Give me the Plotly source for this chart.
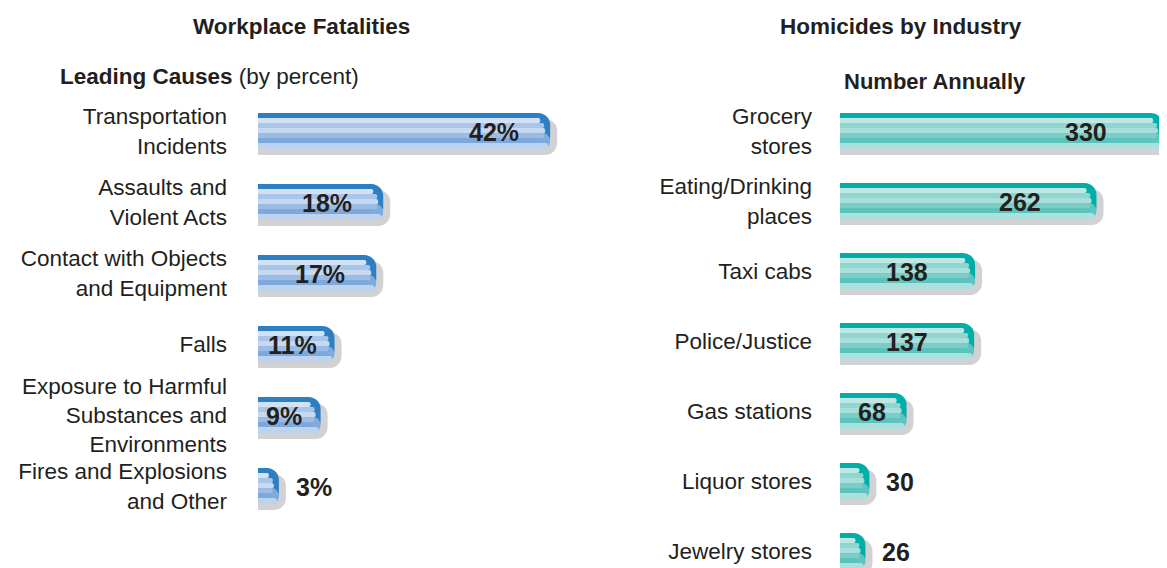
import math
import plotly.graph_objects as go

# ---------------- data ----------------
causes = ["Transportation<br>Incidents", "Assaults and<br>Violent Acts",
          "Contact with Objects<br>and Equipment", "Falls",
          "Exposure to Harmful<br>Substances and<br>Environments",
          "Fires and Explosions<br>and Other"]
cause_pct = [42, 18, 17, 11, 9, 3]
cause_text = ["42%", "18%", "17%", "11%", "9%", "3%"]

industries = ["Grocery<br>stores", "Eating/Drinking<br>places", "Taxi cabs",
              "Police/Justice", "Gas stations", "Liquor stores", "Jewelry stores"]
homicides = [330, 262, 138, 137, 68, 30, 26]
homicide_text = ["330", "262", "138", "137", "68", "30", "26"]

# ---------------- style ----------------
# The page body has an 8px margin, so the figure is sized to fit the window.
W, H = 1159, 560
FONT = "Liberation Sans, Arial, sans-serif"
INK = "#231F20"
SHADOW = "#D2D2D4"

# stripe layers: (top frac, bottom frac, colour, kind)
BLUE = [(0.00, 1.00, "#2C7FC3", "outer"), (0.55, 1.00, "#7FAADD", "outer"),
        (0.83, 1.00, "#BDD2ED", "band"),
        (0.14, 0.28, "#D3E1F4", "inner"), (0.28, 0.42, "#A9C6E9", "inner"),
        (0.42, 0.56, "#C6D9F0", "inner"), (0.56, 0.70, "#9BBDE5", "inner"),
        (0.70, 0.83, "#7DA8DC", "inner")]
TEAL = [(0.00, 1.00, "#00AEA8", "outer"), (0.55, 1.00, "#5EC4BE", "outer"),
        (0.83, 1.00, "#ACE0DC", "band"),
        (0.14, 0.28, "#BFE8E5", "inner"), (0.28, 0.42, "#8FD5D0", "inner"),
        (0.42, 0.56, "#A9DFDB", "inner"), (0.56, 0.70, "#7CCDC8", "inner"),
        (0.70, 0.83, "#5BC2BC", "inner")]
INNER_TOP, INNER_BOT = 0.14, 0.83
BORDER_PX = 5

L_DOM = [250 / W, 554 / W]
L_RANGE = [0, 43.7]
R_DOM = [832 / W, 1.0]
R_RANGE = [0, 334]
L_STEP, R_STEP = 71.0, 70.0
BAR_PX = 36

fig = go.Figure()


def inset_px(f0, f1, kind):
    if kind == "outer":
        return 0.0
    if kind == "band":
        return 2.0
    r = (INNER_BOT - INNER_TOP) * BAR_PX / 2
    dy = abs((f0 + f1) / 2 - (INNER_TOP + INNER_BOT) / 2) * BAR_PX
    return BORDER_PX + r - math.sqrt(max(r * r - dy * dy, 0))


def radius(kind):
    return {"outer": 12, "band": 6, "inner": 2}[kind]


def panel(cats, vals, texts, stripes, xa, ya, dom, rng, step_px, max_shift):
    ppu = (dom[1] - dom[0]) * W / (rng[1] - rng[0])
    bw = BAR_PX / step_px
    # shadow
    fig.add_trace(go.Bar(
        y=cats, x=[v + 7 / ppu for v in vals], orientation="h",
        width=bw, offset=-bw / 2 + 6 / step_px,
        marker=dict(color=SHADOW, line_width=0, cornerradius=12),
        xaxis=xa, yaxis=ya, hoverinfo="skip", showlegend=False))
    for f0, f1, col, kind in stripes:
        ins = inset_px(f0, f1, kind)
        fig.add_trace(go.Bar(
            y=cats, x=[max(v - ins / ppu, 0) for v in vals], orientation="h",
            width=(f1 - f0) * bw, offset=-bw / 2 + f0 * bw,
            marker=dict(color=col, line_width=0, cornerradius=radius(kind)),
            xaxis=xa, yaxis=ya, hoverinfo="skip", showlegend=False))
    anns = []
    for c, v, t in zip(cats, vals, texts):
        bar_px = v * ppu
        tw = len(t) * 15
        if bar_px > tw + 16:
            shift = -min(max_shift, (bar_px - tw) / 2)
            anns.append(dict(x=v, y=c, xref=xa, yref=ya, text=f"<b>{t}</b>", showarrow=False,
                             xanchor="right", xshift=shift, yshift=-1,
                             font=dict(family=FONT, size=25, color=INK)))
        else:
            anns.append(dict(x=v, y=c, xref=xa, yref=ya, text=f"<b>{t}</b>", showarrow=False,
                             xanchor="left", xshift=15, yshift=-1,
                             font=dict(family=FONT, size=25, color=INK)))
    return anns


anns = []
anns += panel(causes, cause_pct, cause_text, BLUE, "x", "y", L_DOM, L_RANGE, L_STEP, 29)
anns += panel(industries, homicides, homicide_text, TEAL, "x2", "y2", R_DOM, R_RANGE, R_STEP, 54)

# headings
anns += [
    dict(x=293 / W, y=1 - 19 / H, xref="paper", yref="paper", text="<b>Workplace Fatalities</b>",
         showarrow=False, xanchor="center", yanchor="middle", font=dict(family=FONT, size=22.5, color=INK)),
    dict(x=50 / W, y=1 - 68 / H, xref="paper", yref="paper",
         text="<b>Leading Causes</b> (by percent)", showarrow=False, xanchor="left", yanchor="middle",
         font=dict(family=FONT, size=22.5, color=INK)),
    dict(x=893 / W, y=1 - 19 / H, xref="paper", yref="paper", text="<b>Homicides by Industry</b>",
         showarrow=False, xanchor="center", yanchor="middle", font=dict(family=FONT, size=22.5, color=INK)),
    dict(x=927 / W, y=1 - 74 / H, xref="paper", yref="paper", text="<b>Number Annually</b>",
         showarrow=False, xanchor="center", yanchor="middle", font=dict(family=FONT, size=22, color=INK)),
]

l_top = 123 - L_STEP / 2
l_bot = l_top + len(causes) * L_STEP
r_top = 123 - R_STEP / 2
r_bot_val = -0.5 + (H - r_top) / R_STEP

axis_common = dict(showgrid=False, zeroline=False, showline=False, fixedrange=True)
tick_font = dict(family=FONT, size=22.5, color=INK)

fig.update_layout(
    width=W, height=H,
    margin=dict(l=0, r=0, t=0, b=0),
    paper_bgcolor="white", plot_bgcolor="white",
    barmode="overlay",
    showlegend=False,
    font=dict(family=FONT, size=21, color=INK),
    xaxis=dict(domain=L_DOM, range=L_RANGE, showticklabels=False, anchor="y", **axis_common),
    yaxis=dict(domain=[1 - l_bot / H, 1 - l_top / H], type="category",
               range=[len(causes) - 0.5, -0.5], anchor="x", ticks="", ticklabelstandoff=30,
               categoryorder="array", categoryarray=causes, tickfont=tick_font,
               automargin=False, **axis_common),
    xaxis2=dict(domain=R_DOM, range=R_RANGE, showticklabels=False, anchor="y2", **axis_common),
    yaxis2=dict(domain=[0, 1 - r_top / H], type="category", range=[r_bot_val, -0.5],
                anchor="x2", ticks="", ticklabelstandoff=27, categoryorder="array",
                categoryarray=industries, tickfont=tick_font, automargin=False, **axis_common),
    annotations=anns,
)

fig.write_html("out.html")
